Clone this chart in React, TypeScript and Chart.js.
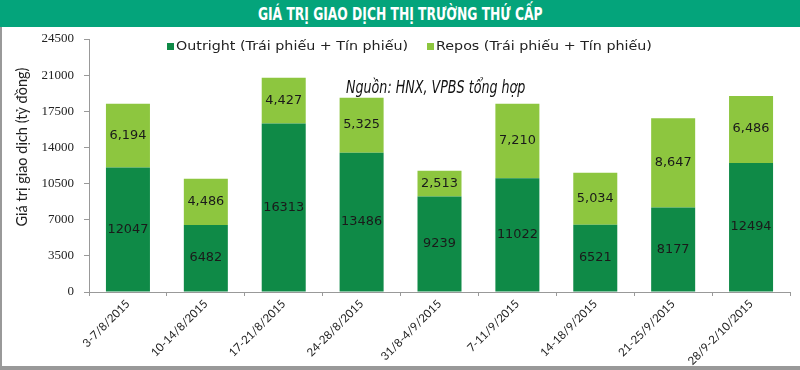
import React, { useEffect, useRef } from "react";
import { Chart, registerables } from "chart.js";

Chart.register(...registerables);

const categories = [
  "3-7/8/2015",
  "10-14/8/2015",
  "17-21/8/2015",
  "24-28/8/2015",
  "31/8-4/9/2015",
  "7-11/9/2015",
  "14-18/9/2015",
  "21-25/9/2015",
  "28/9-2/10/2015",
];
const outright = [12047, 6482, 16313, 13486, 9239, 11022, 6521, 8177, 12494];
const repos = [6194, 4486, 4427, 5325, 2513, 7210, 5034, 8647, 6486];
const seriesNames = ["Outright (Trái phiếu + Tín phiếu)", "Repos (Trái phiếu + Tín phiếu)"];
const titleText = "GIÁ TRỊ GIAO DỊCH THỊ TRƯỜNG THỨ CẤP";
const yTitle = "Giá trị giao dịch (tỷ đồng)";
const sourceText = "Nguồn: HNX, VPBS tổng hợp";
const yMax = 24500;
const yStep = 3500;

const DARK = "#0f8a47";
const LIGHT = "#8dc63f";
const TITLE_BG = "#04a47b";

function drawScaled(ctx: any, text: string, x: number, y: number, sx: number, align: string) {
  ctx.save();
  ctx.translate(x, y);
  ctx.scale(sx, 1);
  ctx.textAlign = align;
  ctx.fillText(text, 0, 0);
  ctx.restore();
}

const overlayPlugin = {
  id: "overlay",
  afterDatasetsDraw(chart: any) {
    const ctx = chart.ctx;
    ctx.save();
    ctx.font = "11.5px 'DejaVu Sans'";
    ctx.fillStyle = "#1a1a1a";
    ctx.textBaseline = "middle";
    chart.data.datasets.forEach((ds: any, di: number) => {
      const meta = chart.getDatasetMeta(di);
      meta.data.forEach((bar: any, i: number) => {
        const v = ds.data[i];
        const txt = di === 0 ? String(v) : v.toLocaleString("en-US");
        const yMid = (bar.y + bar.base) / 2;
        drawScaled(ctx, txt, bar.x, yMid, 1.12, "center");
      });
    });
    // legend
    const items = [
      { color: DARK, text: seriesNames[0], x: 167 },
      { color: LIGHT, text: seriesNames[1], x: 427 },
    ];
    ctx.font = "12px 'DejaVu Sans'";
    items.forEach((it) => {
      ctx.fillStyle = it.color;
      ctx.fillRect(it.x - 3, 16, 7, 7);
      ctx.fillStyle = "#222";
      drawScaled(ctx, it.text, it.x + 6, 20, 1.19, "left");
    });
    // source
    ctx.font = "italic 17px 'DejaVu Sans Condensed', sans-serif";
    ctx.fillStyle = "#111";
    drawScaled(ctx, sourceText, 343, 62, 0.83, "left");
    // y title
    ctx.font = "14.5px Lato, sans-serif";
    ctx.fillStyle = "#222";
    ctx.save();
    ctx.translate(19, 120);
    ctx.rotate(-Math.PI / 2);
    ctx.textAlign = "center";
    ctx.fillText(yTitle, 0, 0);
    ctx.restore();
    ctx.restore();
  },
};

export default function App() {
  const ref = useRef<HTMLCanvasElement>(null);
  useEffect(() => {
    const chart = new Chart(ref.current!, {
      type: "bar",
      data: {
        labels: categories,
        datasets: [
          { label: seriesNames[0], data: outright, backgroundColor: DARK, barPercentage: 0.565, categoryPercentage: 1 },
          { label: seriesNames[1], data: repos, backgroundColor: LIGHT, barPercentage: 0.565, categoryPercentage: 1 },
        ],
      },
      options: {
        responsive: false,
        animation: false,
        layout: { padding: { left: 0, right: 10, top: 12, bottom: 0 } },
        plugins: { legend: { display: false }, tooltip: { enabled: false } },
        scales: {
          x: {
            stacked: true,
            grid: { drawOnChartArea: false, drawTicks: true, tickLength: 4, color: "#999", offset: true },
            border: { color: "#999" },
            ticks: {
              minRotation: 45,
              maxRotation: 45,
              color: "#222",
              font: { family: "Lato, sans-serif", size: 11.5 },
              padding: 1,
            },
            afterFit: (s: any) => {
              s.height = 74;
            },
          },
          y: {
            stacked: true,
            min: 0,
            max: yMax,
            grid: { drawOnChartArea: false, drawTicks: true, tickLength: 5, color: "#999" },
            border: { color: "#999" },
            ticks: {
              stepSize: yStep,
              color: "#222",
              font: { family: "'Liberation Serif', serif", size: 13 },
              padding: 10,
              callback: (v: any) => String(v),
            },
            afterFit: (s: any) => {
              s.width = 86;
              s.paddingTop = 0;
              s.paddingBottom = 0;
            },
          },
        },
      },
      plugins: [overlayPlugin],
    });
    return () => chart.destroy();
  }, []);

  return (
    <div style={{ position: "absolute", left: 0, top: 0, width: 800, height: 370, background: "#fff", overflow: "hidden" }}>
      <div
        style={{
          position: "absolute",
          left: 0,
          top: 0,
          width: 800,
          height: 27,
          background: TITLE_BG,
          color: "#fff",
          textAlign: "center",
          lineHeight: "27px",
          fontFamily: "'DejaVu Sans Condensed', sans-serif",
          fontWeight: "bold",
          fontSize: 18,
        }}
      >
        <span style={{ display: "inline-block", transform: "scaleX(0.76)", whiteSpace: "nowrap" }}>{titleText}</span>
      </div>
      <div style={{ position: "absolute", left: 0, top: 27, width: 2, height: 343, background: "#999" }} />
      <div style={{ position: "absolute", left: 0, top: 366, width: 800, height: 4, background: "#999" }} />
      <canvas ref={ref} width={797} height={339} style={{ position: "absolute", left: 3, top: 27 }} />
    </div>
  );
}
